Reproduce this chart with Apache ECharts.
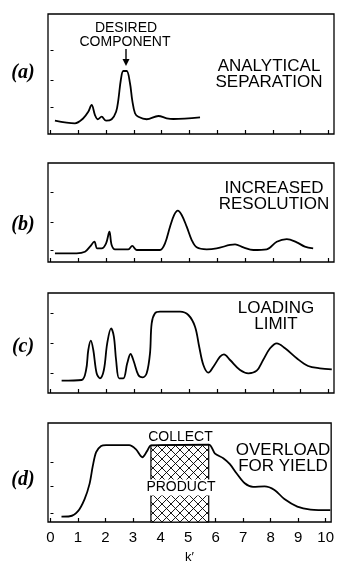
<!DOCTYPE html>
<html><head><meta charset="utf-8">
<script src="https://cdn.jsdelivr.net/npm/echarts@6/dist/echarts.min.js"></script>
<style>html,body{margin:0;padding:0;background:#fff}#c{width:337px;height:565px}</style>
</head><body><div id="c"></div>
<script>
// ---- data (k' vs relative detector signal, 0-100 of panel height) ----
const kTicks = [0,1,2,3,4,5,6,7,8,9,10];
const aX = [0.16,0.88,1.18,1.36,1.48,1.60,1.70,1.84,2.00,2.20,2.36,2.44,2.53,2.62,2.74,2.86,2.94,3.04,3.16,3.46,3.88,4.18,4.42,5.38];
const aY = [11.1,8.9,13.1,18.6,24.2,15.8,12.3,14.4,11.1,12.3,18.6,28.3,45,52.5,52.5,42.3,28.3,17.3,14.4,12.3,15,13.1,12.5,13.9];
const bX = [0.16,0.94,1.24,1.42,1.58,1.68,1.84,2.00,2.12,2.20,2.32,2.80,2.94,3.10,3.94,4.12,4.30,4.45,4.58,4.72,4.90,5.08,5.26,5.62,5.98,6.46,6.64,6.94,7.30,7.78,8.14,8.50,8.86,9.15,9.45];
const bY = [8.8,8.8,10.4,15.5,20.5,13.8,13.8,18.9,30.6,17.2,12.8,12.8,16.2,12.1,12.1,18.9,35.7,47.5,51.8,47.5,35.7,22.2,14.8,12.8,13.8,17.2,17.9,14.8,12.1,12.8,20.5,23.2,19.9,15.5,13.8];
const cX = [0.40,1.12,1.28,1.36,1.45,1.54,1.66,1.78,1.92,2.04,2.18,2.28,2.36,2.47,2.62,2.76,2.88,3.00,3.16,3.32,3.46,3.58,3.64,3.76,3.94,4.66,4.96,5.20,5.35,5.50,5.68,5.86,6.10,6.24,6.46,6.82,7.12,7.42,7.65,7.90,8.14,8.44,8.86,9.27,9.69,10.12];
const cY = [12.3,13,23,43,52.3,43,19.7,14.7,23,49.7,64.7,56.3,33,14.7,14.7,29.7,39,31.3,18,15.7,19.7,39.7,69.7,79.7,81.3,81.3,78,66.3,46.3,28,20.3,26.3,36.3,38.7,33,23,19.7,22.3,33,44.7,49.7,44.7,34.7,27,24.7,23.7];
const dX = [0.40,0.70,1.00,1.24,1.42,1.54,1.66,1.84,2.02,2.86,3.10,3.34,3.52,3.65,5.75,5.98,6.28,6.52,6.76,7.06,7.36,7.78,8.14,8.50,8.97,9.45,10.17];
const dY = [5.5,5.8,11,23.2,38.5,56.9,70.6,76.8,77.7,77.7,73.6,65.4,72.1,77.3,78.2,69.1,64.5,58.4,49.2,39.1,35.5,36,32.4,23.2,15.6,12.6,11.9];
const collectStart = 3.65, collectEnd = 5.75;
const panelLetters = ['(a)','(b)','(c)','(d)'];
const panelNotes = [['ANALYTICAL','SEPARATION'],['INCREASED','RESOLUTION'],['LOADING','LIMIT'],['OVERLOAD','FOR YIELD']];

// ---- layout ----
const grids = [{top:14,height:120},{top:163,height:99},{top:293,height:100},{top:423,height:109}];
const yTicks = [[22,45,70],[12,40,70],[20,50,80],[9,36,60]];
const pairs = (xs, ys) => xs.map((x,i)=>[x, ys[i]]);

// cross-hatch pattern
const pc = document.createElement('canvas');
pc.width = 9; pc.height = 9;
const g = pc.getContext('2d');
g.fillStyle = '#fff'; g.fillRect(0,0,9,9);
g.strokeStyle = '#000'; g.lineWidth = 0.9;
g.beginPath(); g.moveTo(0,0); g.lineTo(9,9); g.moveTo(9,0); g.lineTo(0,9); g.stroke();
const hatch = {image: pc, repeat: 'repeat'};

const chart = echarts.init(document.getElementById('c'), null, {renderer:'canvas'});
const curveStyle = {color:'#000', width:1.8};
const font = '"Liberation Sans", Arial, sans-serif';

const hatchPts = pairs(dX, dY).filter(p => p[0] >= collectStart && p[0] <= collectEnd);

const option = {
  animation:false,
  backgroundColor:'#fff',
  grid: grids.map(gr => ({left:48, right:3, top:gr.top, height:gr.height, show:true, borderColor:'#000', borderWidth:1.3, backgroundColor:'transparent'})),
  xAxis: grids.map((gr,i) => ({
    gridIndex:i, type:'value', min:-0.09, max:10.2,
    axisLine:{show:false}, splitLine:{show:false},
    axisTick:{show:true, inside:true, length:4, customValues:kTicks, lineStyle:{color:'#000', width:1.2}},
    axisLabel:{show:i===3, customValues:kTicks, color:'#000', fontSize:15, fontFamily:font, margin:8, formatter:v=>String(v)},
    name: i===3 ? 'k\u2032' : '', nameLocation:'middle', nameGap:29,
    nameTextStyle:{color:'#000', fontSize:13, fontFamily:font}
  })),
  yAxis: grids.map((gr,i) => ({
    gridIndex:i, type:'value', min:0, max:100,
    axisLine:{show:false}, splitLine:{show:false}, axisLabel:{show:false},
    axisTick:{show:true, inside:true, length:3, customValues:yTicks[i], lineStyle:{color:'#000', width:1}}
  })),
  series: [
    {type:'custom', xAxisIndex:3, yAxisIndex:3, z:1, data:[[collectStart,0]],
      renderItem:(params, api) => {
        const pts = hatchPts.map(p => api.coord(p));
        pts.push(api.coord([collectEnd,0]));
        pts.push(api.coord([collectStart,0]));
        return {type:'polygon', shape:{points:pts}, style:{fill:hatch, stroke:'#000', lineWidth:1.2}};
      }},
    {type:'line', xAxisIndex:0, yAxisIndex:0, data:pairs(aX,aY), smooth:0.35, showSymbol:false, lineStyle:curveStyle, z:3},
    {type:'line', xAxisIndex:1, yAxisIndex:1, data:pairs(bX,bY), smooth:0.35, showSymbol:false, lineStyle:curveStyle, z:3},
    {type:'line', xAxisIndex:2, yAxisIndex:2, data:pairs(cX,cY), smooth:0.35, showSymbol:false, lineStyle:curveStyle, z:3},
    {type:'line', xAxisIndex:3, yAxisIndex:3, data:pairs(dX,dY), smooth:0.3, showSymbol:false, lineStyle:curveStyle, z:3}
  ],
  graphic: []
};

const noteCenters = [[269,66.7],[274,188],[276,308],[283,450]];
const letterY = [73,225,347,480];
panelLetters.forEach((t,i) => {
  option.graphic.push({type:'text', x:23, y:letterY[i], z:10, style:{text:t, font:'italic bold 20px "Liberation Serif", "Times New Roman", serif', fill:'#000', align:'center', verticalAlign:'middle'}});
  const [cx, cy] = noteCenters[i];
  option.graphic.push({type:'text', x:cx, y:cy, z:10, style:{text:panelNotes[i][0], font:'17px '+font, fill:'#000', align:'center', verticalAlign:'middle'}});
  option.graphic.push({type:'text', x:cx, y:cy+16, z:10, style:{text:panelNotes[i][1], font:'17px '+font, fill:'#000', align:'center', verticalAlign:'middle'}});
});
option.graphic.push(
  {type:'text', x:126, y:28.5, z:10, style:{text:'DESIRED', font:'14px '+font, fill:'#000', align:'center', verticalAlign:'middle'}},
  {type:'text', x:125, y:42.5, z:10, style:{text:'COMPONENT', font:'14px '+font, fill:'#000', align:'center', verticalAlign:'middle'}},
  {type:'line', z:10, shape:{x1:126, y1:49, x2:126, y2:61}, style:{stroke:'#000', lineWidth:1.4}},
  {type:'polygon', z:10, shape:{points:[[122.5,59],[129.5,59],[126,66]]}, style:{fill:'#000'}},
  {type:'text', x:180.5, y:437.5, z:10, style:{text:'COLLECT', font:'14px '+font, fill:'#000', align:'center', verticalAlign:'middle'}},
  {type:'text', x:181, y:487.5, z:10, style:{text:'PRODUCT', font:'14px '+font, fill:'#000', align:'center', verticalAlign:'middle', backgroundColor:'#fff', padding:[1,1]}}
);

chart.setOption(option);
</script>
</body></html>
